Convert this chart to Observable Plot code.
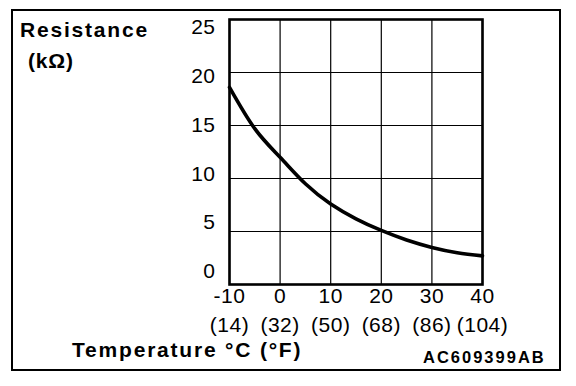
<!DOCTYPE html>
<html>
<head>
<meta charset="utf-8">
<script src="https://cdn.jsdelivr.net/npm/d3@7"></script>
<script src="https://cdn.jsdelivr.net/npm/@observablehq/plot@0.6"></script>
<style>
  html, body { margin: 0; padding: 0; background: #fff; }
  #wrap { position: relative; width: 576px; height: 386px; overflow: hidden; }
  #wrap svg { position: absolute; left: 0; top: 0; }
  .border { position: absolute; left: 11px; top: 9px; width: 550px; height: 362px; box-sizing: border-box; border: 2px solid #000; }
  .t { position: absolute; font-family: "Liberation Sans", Arial, sans-serif; font-weight: bold; color: #000; white-space: nowrap; line-height: 1; }
</style>
</head>
<body>
<div id="wrap">
  <div class="border"></div>
</div>
<script>
const tempC = [-10, -5, 0, 5, 10, 15, 20, 25, 30, 35, 40];
const resistance = [18.6, 14.7, 12.0, 9.5, 7.6, 6.2, 5.1, 4.2, 3.5, 3.0, 2.7];
const xTicks = [-10, 0, 10, 20, 30, 40];
const xTickLabelsC = ["-10", "0", "10", "20", "30", "40"];
const xTickLabelsF = ["(14)", "(32)", "(50)", "(68)", "(86)", "(104)"];
const yTicks = [0, 5, 10, 15, 20, 25];
const yTitle = ["Resistance", "(kΩ)"];
const xTitle = "Temperature °C (°F)";
const code = "AC609399AB";

const data = tempC.map((t, i) => ({t, r: resistance[i]}));
const cMap = new Map(xTicks.map((d, i) => [d, xTickLabelsC[i]]));
const fMap = new Map(xTicks.map((d, i) => [d, xTickLabelsF[i]]));

const font = "'Liberation Sans', Arial, sans-serif";

const chart = Plot.plot({
  width: 576,
  height: 386,
  marginLeft: 229,
  marginRight: 94,
  marginTop: 19,
  marginBottom: 102,
  x: {domain: [-10, 40], axis: null},
  y: {domain: [0, 25], axis: null},
  style: {fontFamily: font, fontSize: "21px", color: "#000", background: "transparent", letterSpacing: "0.5px"},
  marks: [
    Plot.gridX(xTicks, {stroke: "#000", strokeOpacity: 1, strokeWidth: 1.2}),
    Plot.gridY(yTicks, {stroke: "#000", strokeOpacity: 1, strokeWidth: 1.2}),
    Plot.frame({stroke: "#000", strokeWidth: 2.6}),
    Plot.axisX(xTicks, {tickSize: 0, tickPadding: 4, tickFormat: d => cMap.get(d), label: null, fontSize: 21}),
    Plot.axisX(xTicks, {tickSize: 0, tickPadding: 33, tickFormat: d => fMap.get(d), label: null, fontSize: 21}),
    Plot.line(data, {x: "t", y: "r", curve: "natural", stroke: "#000", strokeWidth: 3.6})
  ]
});

// y tick labels: drawn by a second Plot whose y scale spans the label column of the original
const yLabels = Plot.plot({
  width: 576,
  height: 386,
  marginLeft: 229,
  marginRight: 94,
  marginTop: 27,
  marginBottom: 115,
  y: {domain: [0, 25], axis: null},
  style: {fontFamily: font, fontSize: "21px", color: "#000", background: "transparent", letterSpacing: "0.5px"},
  marks: [
    Plot.axisY(yTicks, {tickSize: 0, tickPadding: 14, label: null, fontSize: 21})
  ]
});

const wrap = document.getElementById("wrap");
wrap.insertBefore(yLabels, wrap.firstChild);
wrap.insertBefore(chart, wrap.firstChild);

function addText(txt, left, top, size, spacing) {
  const d = document.createElement("div");
  d.className = "t";
  d.textContent = txt;
  d.style.left = left + "px";
  d.style.top = top + "px";
  d.style.fontSize = size + "px";
  d.style.letterSpacing = spacing + "px";
  wrap.appendChild(d);
}
addText(yTitle[0], 20, 19, 21, 1.8);
addText(yTitle[1], 28, 50, 21, 0.8);
addText(xTitle, 72, 339, 21, 1.8);
addText(code, 423, 349, 16.5, 2);
</script>
</body>
</html>
